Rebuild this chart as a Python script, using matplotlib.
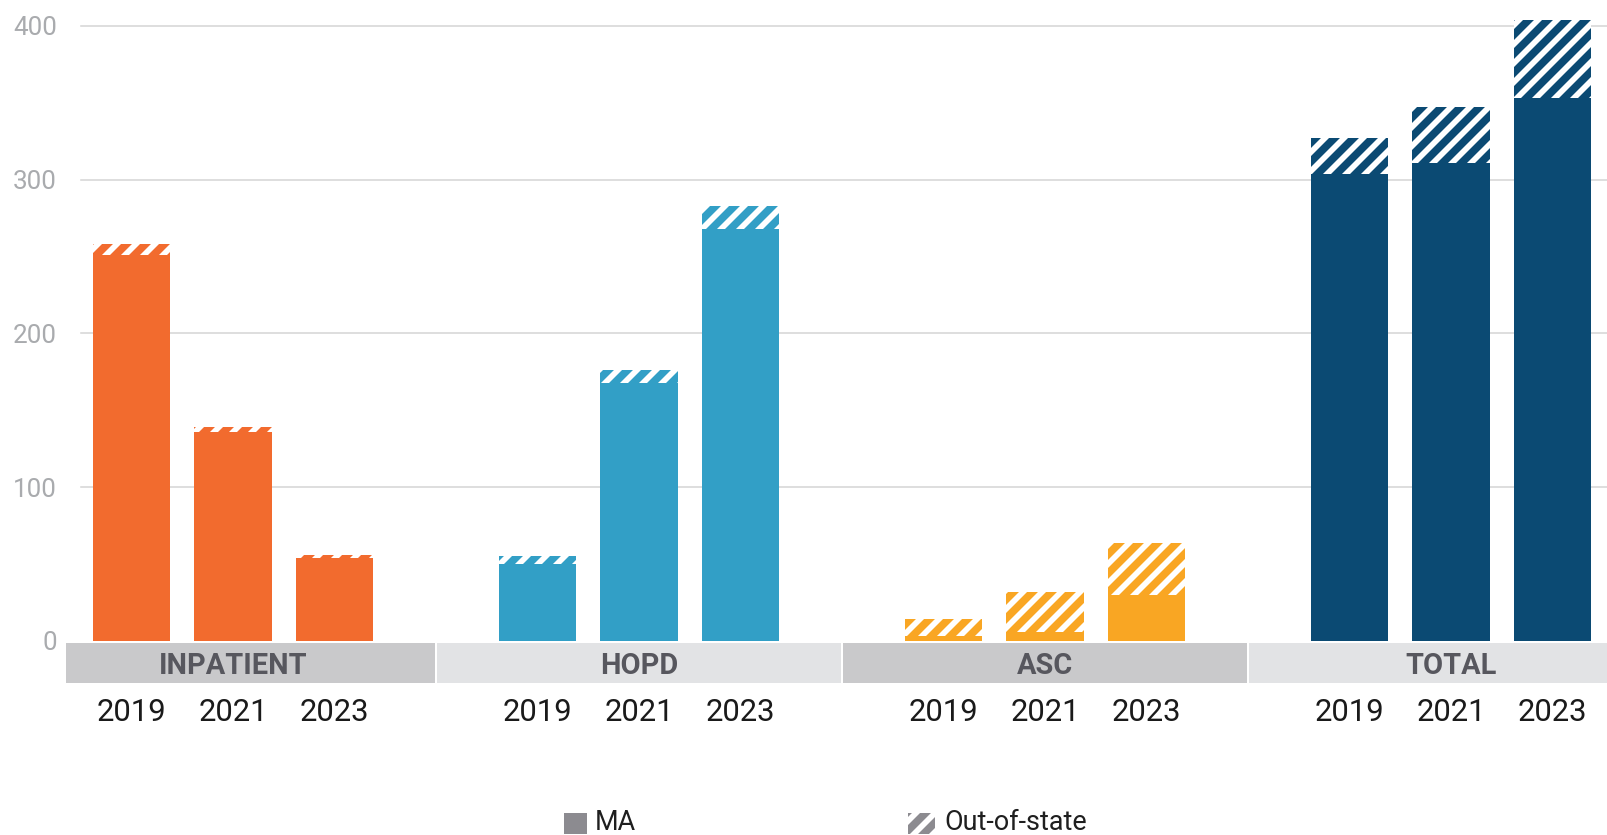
import matplotlib.pyplot as plt
from matplotlib.patches import Rectangle

# volumes by setting, MA residents vs out-of-state residents
years = ["2019", "2021", "2023"]
settings = ["INPATIENT", "HOPD", "ASC", "TOTAL"]
ma_inpatient = [251, 136, 54]
oos_inpatient = [7, 3, 2]
ma_hopd = [50, 168, 268]
oos_hopd = [5, 8, 15]
ma_asc = [3, 6, 30]
oos_asc = [11, 26, 34]
ma_total = [304, 311, 353]
oos_total = [23, 36, 51]
yticks = [0, 100, 200, 300, 400]

ma_vals = [ma_inpatient, ma_hopd, ma_asc, ma_total]
oos_vals = [oos_inpatient, oos_hopd, oos_asc, oos_total]
colors = ["#f26b2e", "#329fc6", "#f9a623", "#0b4a73"]
band_colors = ["#c9c9cb", "#e2e3e5", "#c9c9cb", "#e2e3e5"]

DPI = 114
W, H = 1607, 835
PT = 72 / DPI  # pixels -> points

plt.rcParams['font.family'] = ['Roboto', 'DejaVu Sans']
plt.rcParams['hatch.linewidth'] = 3.6

fig = plt.figure(figsize=(W / DPI, H / DPI), dpi=DPI)
ax = fig.add_axes([66 / W, (H - 641) / H, 1 - 66 / W, 641 / H])
ax.set_xlim(-0.645, 14.537)
ax.set_ylim(0, 416.9)

for v in yticks[1:]:
    ax.axhline(v, xmin=0.0097, xmax=1, color="#d7d7d7", lw=1.6 * PT, zorder=0)

for g in range(4):
    xs = [4 * g + i for i in range(3)]
    ax.bar(xs, ma_vals[g], width=0.76, color=colors[g], lw=0, zorder=2)
    ax.bar(xs, oos_vals[g], bottom=ma_vals[g], width=0.76, facecolor=colors[g],
           edgecolor="white", hatch="//", lw=0, zorder=2)

    # category band under each group
    c = 4 * g + 1
    left = max(c - 2 + 0.01, -0.645)
    right = min(c + 2 - 0.01, 14.537)
    ax.add_patch(Rectangle((left, -27.3), right - left, 26.0, facecolor=band_colors[g],
                           lw=0, clip_on=False, zorder=1))
    ax.text(c, -16.3, settings[g], ha="center", va="center", fontsize=29 * PT,
            fontweight="bold", color="#57575e", clip_on=False)
    for i, x in enumerate(xs):
        ax.text(x, -46.4, years[i], ha="center", va="center", fontsize=31 * PT,
                color="#1a1a1a", clip_on=False)

ax.set_yticks(yticks)
ax.set_yticklabels([str(v) for v in yticks], fontsize=26 * PT, color="#a9abae")
ax.tick_params(axis="y", length=0, pad=9 * PT)
ax.set_xticks([])
for s in ax.spines.values():
    s.set_visible(False)

# legend
fig.patches.append(Rectangle((564 / W, 1 - 834 / H), 23 / W, 21 / H, facecolor="#8c8b90",
                             lw=0, transform=fig.transFigure, figure=fig))
fig.text(595 / W, 1 - 823 / H, "MA", ha="left", va="center", fontsize=27 * PT, color="#1f1f1f")
fig.patches.append(Rectangle((908 / W, 1 - 834 / H), 27 / W, 21 / H, facecolor="#8c8b90",
                             edgecolor="white", hatch="//", lw=0,
                             transform=fig.transFigure, figure=fig))
fig.text(944 / W, 1 - 823 / H, "Out-of-state", ha="left", va="center", fontsize=27 * PT,
         color="#1f1f1f")

fig.savefig("out.png", dpi=DPI)
